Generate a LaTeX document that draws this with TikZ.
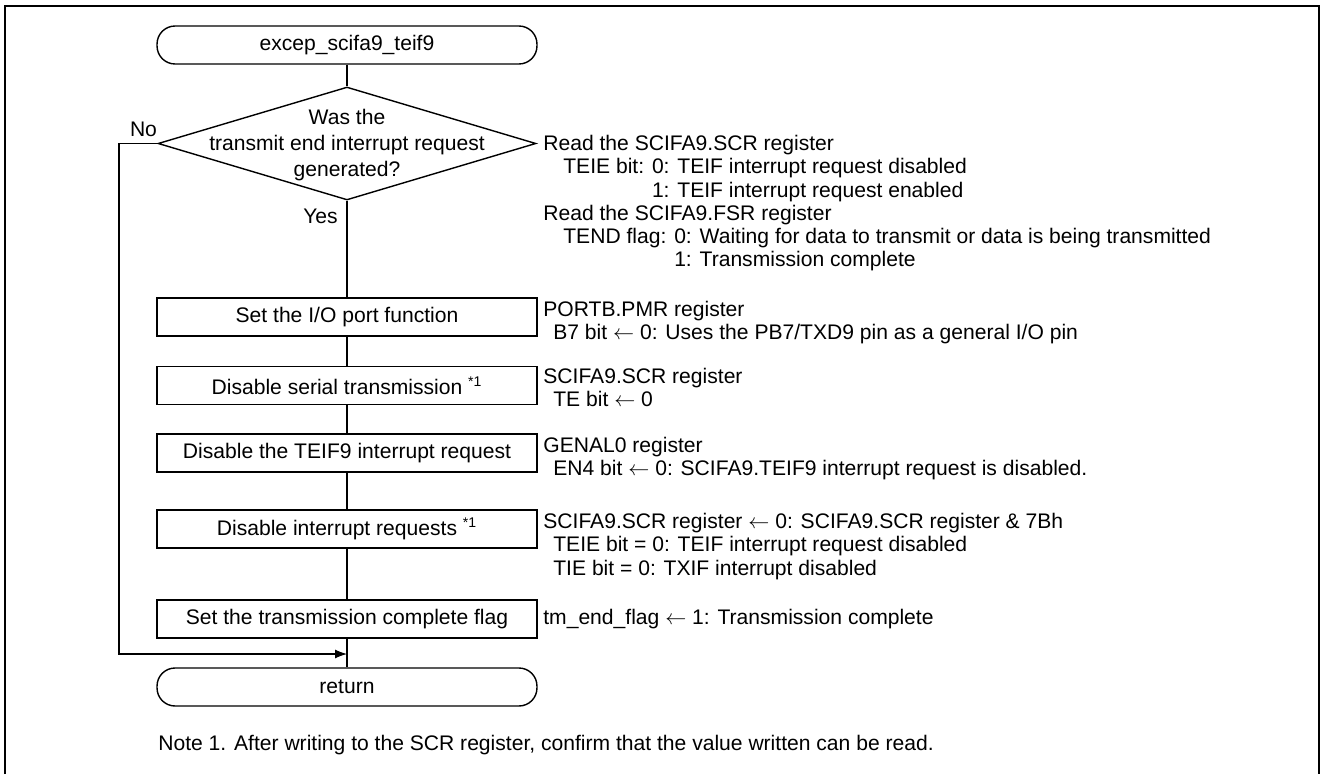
\documentclass[tikz,border=0pt]{standalone}
\usepackage{fontspec}
\setmainfont{Liberation Sans}
\usetikzlibrary{shapes.geometric,arrows.meta}

\begin{document}
\begin{tikzpicture}[x=0.02cm,y=-0.02cm,
	txt/.style={font=\fontsize{12}{13.2}\selectfont,inner sep=0pt},
	proc/.style={txt,draw,line width=0.8pt,minimum width=7.6cm,minimum height=0.76cm},
	term/.style={proc,rounded corners=0.36cm},
	desc/.style={txt,align=left,anchor=north west},
	flow/.style={line width=0.6pt}]
	\useasboundingbox (0,0) rectangle (1328,774);
	\draw[line width=1.2pt] (5,774) -- (5,6) -- (1319,6) -- (1319,774);

	\node[term] (start) at (347,45) {excep\_scifa9\_teif9};
	\node[draw,diamond,line width=0.8pt,minimum width=7.56cm,minimum height=2.26cm,inner sep=0pt] (dec) at (347,143.5) {};
	\node[txt,align=center,font=\fontsize{12}{14.8}\selectfont] (dectxt) at (347,145) {Was the\\transmit end interrupt request\\generated?};
	\node[proc] (box1) at (347,317) {Set the I/O port function};
	\node[proc] (box2) at (347,385.5) {Disable serial transmission \textsuperscript{*1}};
	\node[proc] (box3) at (347,453) {Disable the TEIF9 interrupt request};
	\node[proc] (box4) at (347,529) {Disable interrupt requests \textsuperscript{*1}};
	\node[proc] (box5) at (347,619) {Set the transmission complete flag};
	\node[term] (ret) at (347,687) {return};

	\node[txt] (no) at (143.5,129) {No};
	\node[txt] (yes) at (320.5,216) {Yes};

	\foreach \a/\b in {start/dec,dec/box1,box1/box2,box2/box3,box3/box4,box4/box5,box5/ret}
		\draw[flow] (\a) -- (\b);
	\coordinate (nl) at (119,143.5);
	\coordinate (jn) at (347,654);
	\draw[flow,-{Latex[length=0.24cm,width=0.18cm]}] (dec.west) -- (nl) |- (jn);

	\node[desc] (d0) at (543,135) {Read the SCIFA9.SCR register\\
		\hspace*{0.4cm}TEIE bit: 0: TEIF interrupt request disabled\\
		\hspace*{0.4cm}\phantom{TEIE bit: }1: TEIF interrupt request enabled\\
		Read the SCIFA9.FSR register\\
		\hspace*{0.4cm}TEND flag: 0: Waiting for data to transmit or data is being transmitted\\
		\hspace*{0.4cm}\phantom{TEND flag: }1: Transmission complete};
	\node[desc] (d1) at (543,301) {PORTB.PMR register\\
		\hspace*{0.2cm}B7 bit $\leftarrow$ 0: Uses the PB7/TXD9 pin as a general I/O pin};
	\node[desc] (d2) at (543,368) {SCIFA9.SCR register\\
		\hspace*{0.2cm}TE bit $\leftarrow$ 0};
	\node[desc] (d3) at (543,437) {GENAL0 register\\
		\hspace*{0.2cm}EN4 bit $\leftarrow$ 0: SCIFA9.TEIF9 interrupt request is disabled.};
	\node[desc] (d4) at (543,513) {SCIFA9.SCR register $\leftarrow$ 0: SCIFA9.SCR register \& 7Bh\\
		\hspace*{0.2cm}TEIE bit = 0: TEIF interrupt request disabled\\
		\hspace*{0.2cm}TIE bit = 0: TXIF interrupt disabled};
	\node[txt,anchor=west] (d5) at (543,619) {tm\_end\_flag $\leftarrow$ 1: Transmission complete};

	\node[txt,anchor=west] (note) at (158,745) {Note 1. After writing to the SCR register, confirm that the value written can be read.};
\end{tikzpicture}
\end{document}
